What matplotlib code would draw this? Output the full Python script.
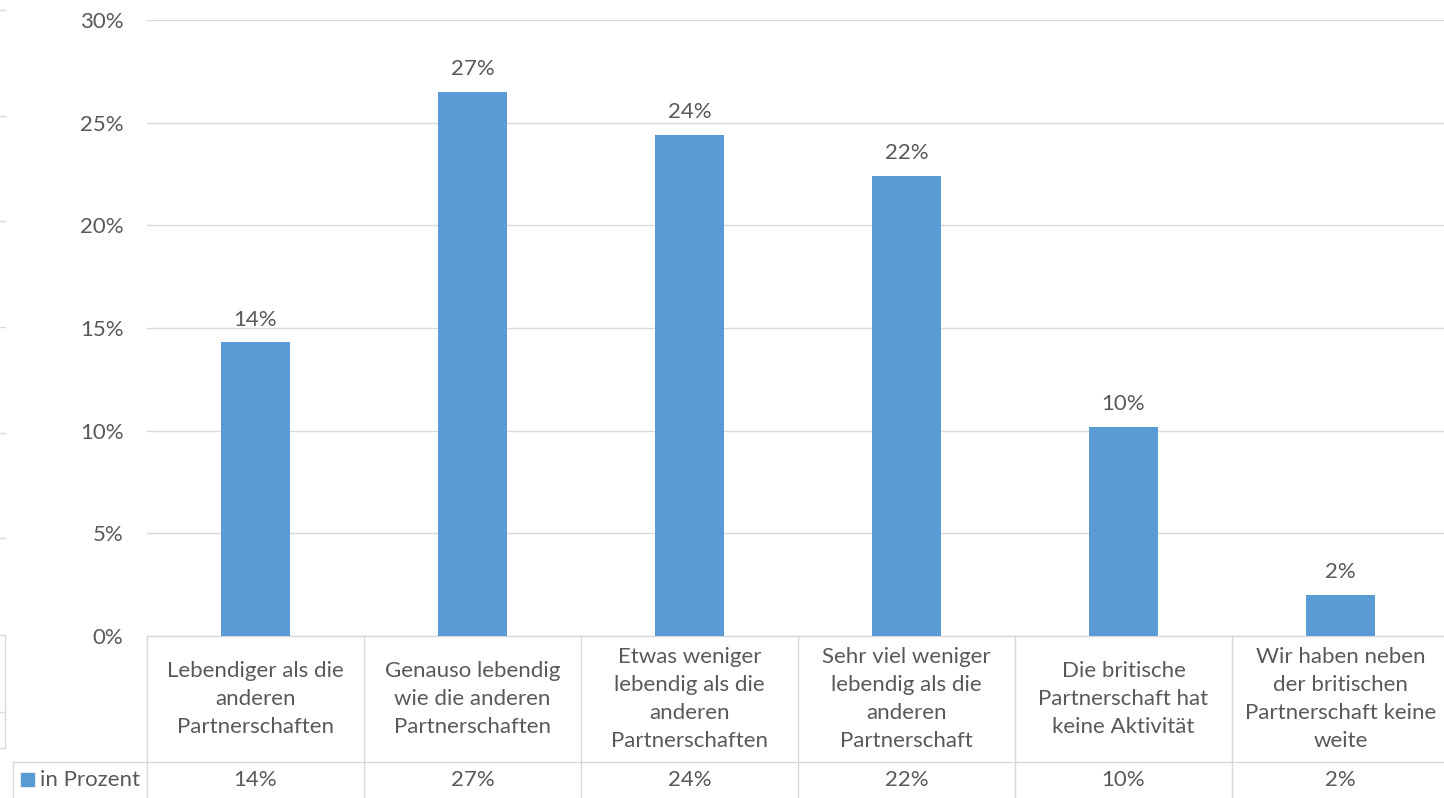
import math
import matplotlib
matplotlib.use("Agg")
import matplotlib.pyplot as plt
from matplotlib.patches import Rectangle
from matplotlib.lines import Line2D
from matplotlib.ticker import FuncFormatter

# ---- data ----
categories = [
    "Lebendiger als die\nanderen\nPartnerschaften",
    "Genauso lebendig\nwie die anderen\nPartnerschaften",
    "Etwas weniger\nlebendig als die\nanderen\nPartnerschaften",
    "Sehr viel weniger\nlebendig als die\nanderen\nPartnerschaft",
    "Die britische\nPartnerschaft hat\nkeine Aktivität",
    "Wir haben neben\nder britischen\nPartnerschaft keine\nweite",
]
values = [14.3, 26.5, 24.4, 22.4, 10.2, 2.0]
series_name = "in Prozent"
yticks = [0, 5, 10, 15, 20, 25, 30]

# ---- style ----
BAR = "#5B9BD5"
TXT = "#595959"
GRID = "#D9D9D9"
FONT = "Lato"
FS = 16
plt.rcParams["font.family"] = [FONT, "DejaVu Sans"]

def pct(v):
    return f"{math.floor(v + 0.5):.0f}%"

W, H = 1444, 798
fig = plt.figure(figsize=(W / 100, H / 100), dpi=100)
fig.patch.set_facecolor("white")

def fx(px):
    return px / W

def fy(py):
    return 1 - py / H

ax_left, ax_top, ax_bottom = 147, 20, 636
cat_w = 217
ax = fig.add_axes([fx(ax_left), fy(ax_bottom), fx(cat_w * len(categories)), (ax_bottom - ax_top) / H])

x = list(range(len(categories)))
bars = ax.bar(x, values, width=0.315, color=BAR, zorder=3)
ax.set_xlim(-0.5, len(categories) - 0.5)
ax.set_ylim(0, 30)
ax.set_yticks(yticks)
ax.yaxis.set_major_formatter(FuncFormatter(lambda v, p: f"{v:.0f}%"))
ax.tick_params(axis="y", length=0, pad=17, labelsize=FS, labelcolor=TXT)
ax.set_xticks([])
ax.grid(axis="y", color=GRID, linewidth=1.0, zorder=0)
for s in ["top", "right", "left"]:
    ax.spines[s].set_visible(False)
ax.spines["bottom"].set_color(GRID)
ax.spines["bottom"].set_linewidth(1.0)

for xi, v in zip(x, values):
    ax.annotate(pct(v), (xi, v), xytext=(0, 12), textcoords="offset points",
                ha="center", va="baseline", fontsize=FS, color=TXT)

# ---- data table ----
def ay(py):
    return (ax_bottom - py) / (ax_bottom - ax_top)

trans = ax.get_xaxis_transform()
row_sep = 762
for b in range(len(categories) + 1):
    ax.add_line(Line2D([b - 0.5, b - 0.5], [ay(ax_bottom), ay(H)], transform=trans,
                       color=GRID, lw=1.0, clip_on=False))
for xi, c in zip(x, categories):
    ax.text(xi, ay(699), c, transform=trans, ha="center", va="center", multialignment="center",
            fontsize=FS, color=TXT, linespacing=1.5, clip_on=False)
for xi, v in zip(x, values):
    ax.text(xi, ay(780), pct(v), transform=trans, ha="center", va="center",
            fontsize=FS, color=TXT, clip_on=False)

fig.add_artist(Line2D([fx(13), 1.0], [fy(row_sep), fy(row_sep)], transform=fig.transFigure, color=GRID, lw=1.0))
fig.add_artist(Line2D([fx(13), fx(13)], [fy(row_sep), 0], transform=fig.transFigure, color=GRID, lw=1.0))
fig.add_artist(Rectangle((fx(21), fy(786)), fx(13), 13 / H, transform=fig.transFigure, color=BAR))
fig.text(fx(40), fy(780), series_name, ha="left", va="center", fontsize=FS, color=TXT)

# ---- remnants at left edge ----
for py in [10, 116, 221, 327, 433, 538]:
    fig.add_artist(Line2D([0, fx(5)], [fy(py), fy(py)], transform=fig.transFigure, color=GRID, lw=1.0))
fig.add_artist(Line2D([0, fx(5), fx(5), 0], [fy(635), fy(635), fy(748), fy(748)], transform=fig.transFigure, color=GRID, lw=1.0))
fig.add_artist(Line2D([0, fx(5)], [fy(712), fy(712)], transform=fig.transFigure, color=GRID, lw=1.0))

fig.savefig("out.png", dpi=100, facecolor="white")
